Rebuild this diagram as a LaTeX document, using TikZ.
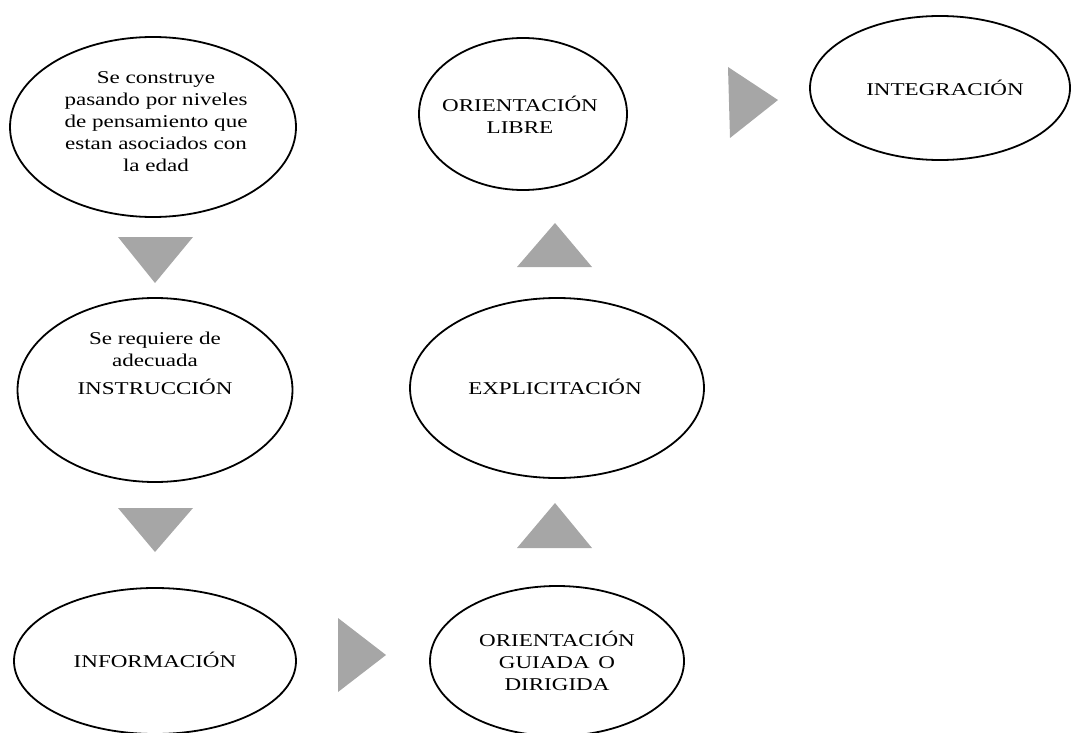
\documentclass[tikz,border=0pt]{standalone}
\usepackage{fontspec}
\setmainfont[FakeStretch=1.28]{Liberation Serif}
\usetikzlibrary{shapes.geometric}
\begin{document}
\begin{tikzpicture}[x=1pt,y=-1pt,
  ell/.style={draw=black, line width=1.8pt, ellipse, inner sep=0pt},
  txt/.style={align=center, font=\fontsize{18}{22}\selectfont, inner sep=0pt},
  tri/.style={fill=gray!70!white, draw=none}]
\useasboundingbox (0,0) rectangle (1073,733);
% ellipses
\node[ell, minimum width=286pt, minimum height=180pt] (e1) at (153,127) {};
\node[ell, minimum width=275pt, minimum height=184pt] (e2) at (155,390) {};
\node[ell, minimum width=282pt, minimum height=146pt] (e3) at (155,661) {};
\node[ell, minimum width=254pt, minimum height=150pt] (e4) at (557,661) {};
\node[ell, minimum width=294pt, minimum height=180pt] (e5) at (557,388) {};
\node[ell, minimum width=208pt, minimum height=152pt] (e6) at (523,114) {};
\node[ell, minimum width=260pt, minimum height=144pt] (e7) at (940,88) {};
% texts
\node[txt] (t1) at (156,122) {Se construye\\pasando por niveles\\de pensamiento que\\estan asociados con\\la edad};
\node[txt] (t2) at (155,363) {Se requiere de\\adecuada\\[6pt]INSTRUCCIÓN};
\node[txt] (t3) at (155,660) {INFORMACIÓN};
\node[txt] (t4) at (557,661) {ORIENTACIÓN\\GUIADA\, O\\DIRIGIDA};
\node[txt] (t5) at (555,387) {EXPLICITACIÓN};
\node[txt] (t6) at (520,115) {ORIENTACIÓN\\LIBRE};
\node[txt] (t7) at (945,88) {INTEGRACIÓN};
% triangles
\fill[tri] (118,237) -- (193,237) -- (155,283) -- cycle;
\fill[tri] (118,508) -- (193,508) -- (155,552) -- cycle;
\fill[tri] (338,618) -- (338,692) -- (386,655) -- cycle;
\fill[tri] (517,548) -- (592,548) -- (555,503) -- cycle;
\fill[tri] (517,267) -- (592,267) -- (555,223) -- cycle;
\fill[tri] (728,67) -- (730,138) -- (778,100) -- cycle;
\end{tikzpicture}
\end{document}
